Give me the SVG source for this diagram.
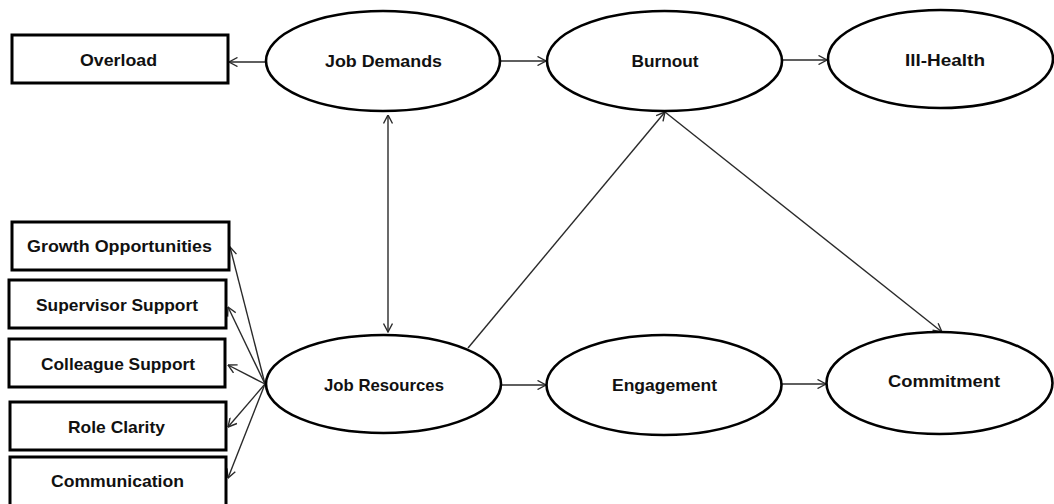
<svg xmlns="http://www.w3.org/2000/svg" width="1054" height="504" viewBox="0 0 1054 504">
<defs>
<style>
.box{fill:#fff;stroke:#000;stroke-width:3}
.ell{fill:#fff;stroke:#000;stroke-width:2.6}
.lbl{font-family:"Liberation Sans",Arial,sans-serif;font-weight:bold;font-size:17px;fill:#111;text-anchor:middle}
.con{stroke:#2a2a2a;stroke-width:1.4;fill:none}
</style>
<marker id="ah" viewBox="0 0 10 10" refX="9.5" refY="5" markerWidth="10" markerHeight="10" markerUnits="userSpaceOnUse" orient="auto-start-reverse">
<path d="M1,0.5 L9.5,5 L1,9.5" fill="none" stroke="#2a2a2a" stroke-width="1.4"/>
</marker>
</defs>
<rect width="1054" height="504" fill="#fff"/>
<g id="connectors">
<line class="con" x1="266" y1="62" x2="229" y2="62" marker-end="url(#ah)"/>
<line class="con" x1="500" y1="61" x2="546" y2="61" marker-end="url(#ah)"/>
<line class="con" x1="782" y1="60" x2="827" y2="60" marker-end="url(#ah)"/>
<line class="con" x1="388" y1="115" x2="388" y2="332" marker-start="url(#ah)" marker-end="url(#ah)"/>
<line class="con" x1="468" y1="348" x2="665" y2="112" marker-end="url(#ah)"/>
<line class="con" x1="665" y1="112" x2="942" y2="332" marker-end="url(#ah)"/>
<line class="con" x1="501" y1="385" x2="546" y2="385" marker-end="url(#ah)"/>
<line class="con" x1="782" y1="384" x2="826" y2="384" marker-end="url(#ah)"/>
<line class="con" x1="265" y1="384" x2="230" y2="247" marker-end="url(#ah)"/>
<line class="con" x1="265" y1="384" x2="228" y2="307" marker-end="url(#ah)"/>
<line class="con" x1="265" y1="384" x2="228" y2="365" marker-end="url(#ah)"/>
<line class="con" x1="265" y1="384" x2="228" y2="427" marker-end="url(#ah)"/>
<line class="con" x1="265" y1="384" x2="228" y2="478" marker-end="url(#ah)"/>
</g>
<g id="overload"><rect class="box" x="12" y="35" width="216" height="48"/><text class="lbl" x="118.5" y="66" textLength="77" lengthAdjust="spacingAndGlyphs">Overload</text></g>
<g id="job-demands"><ellipse class="ell" cx="383" cy="61" rx="117" ry="50"/><text class="lbl" x="383.5" y="67" textLength="117" lengthAdjust="spacingAndGlyphs">Job Demands</text></g>
<g id="burnout"><ellipse class="ell" cx="664.5" cy="61" rx="117.5" ry="50"/><text class="lbl" x="665" y="67" textLength="67" lengthAdjust="spacingAndGlyphs">Burnout</text></g>
<g id="ill-health"><ellipse class="ell" cx="940.5" cy="59" rx="112.5" ry="49"/><text class="lbl" x="945" y="66" textLength="80" lengthAdjust="spacingAndGlyphs">Ill-Health</text></g>
<g id="growth"><rect class="box" x="12" y="222" width="217" height="48"/><text class="lbl" x="119.5" y="252" textLength="185" lengthAdjust="spacingAndGlyphs">Growth Opportunities</text></g>
<g id="supervisor"><rect class="box" x="9" y="280" width="217" height="48"/><text class="lbl" x="117" y="311" textLength="162" lengthAdjust="spacingAndGlyphs">Supervisor Support</text></g>
<g id="colleague"><rect class="box" x="9" y="339" width="216" height="48"/><text class="lbl" x="118" y="370" textLength="154" lengthAdjust="spacingAndGlyphs">Colleague Support</text></g>
<g id="role-clarity"><rect class="box" x="10" y="402" width="216" height="48"/><text class="lbl" x="116.5" y="433" textLength="97" lengthAdjust="spacingAndGlyphs">Role Clarity</text></g>
<g id="communication"><rect class="box" x="10" y="457" width="216" height="52"/><text class="lbl" x="117.5" y="487" textLength="133" lengthAdjust="spacingAndGlyphs">Communication</text></g>
<g id="job-resources"><ellipse class="ell" cx="383.5" cy="384" rx="117.5" ry="49"/><text class="lbl" x="384" y="391" textLength="120" lengthAdjust="spacingAndGlyphs">Job Resources</text></g>
<g id="engagement"><ellipse class="ell" cx="664" cy="385" rx="117.5" ry="50"/><text class="lbl" x="664.5" y="391" textLength="105" lengthAdjust="spacingAndGlyphs">Engagement</text></g>
<g id="commitment"><ellipse class="ell" cx="939.5" cy="383" rx="113" ry="51"/><text class="lbl" x="944" y="387" textLength="112" lengthAdjust="spacingAndGlyphs">Commitment</text></g>
</svg>
